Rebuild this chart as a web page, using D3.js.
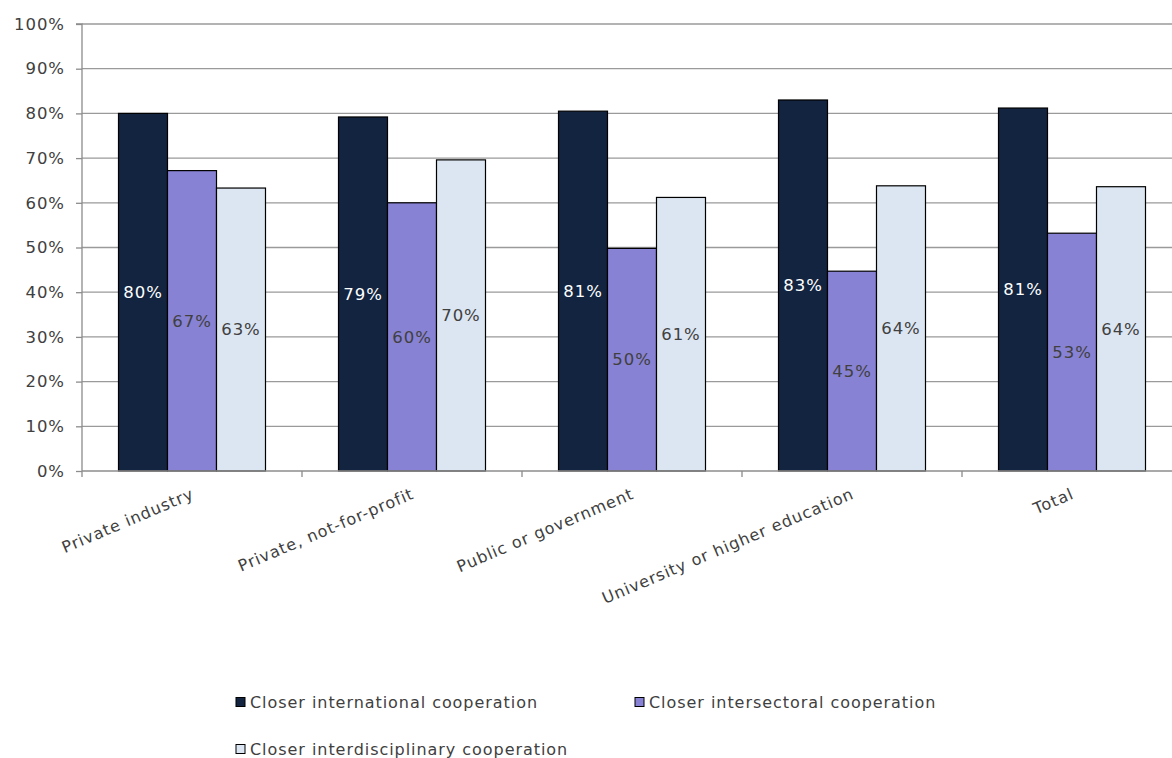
<!DOCTYPE html>
<html><head><meta charset="utf-8">
<script src="https://cdn.jsdelivr.net/npm/d3@7"></script>
<style>body{margin:0;background:#fff}svg{display:block;font-family:"DejaVu Sans",Verdana,sans-serif}</style>
</head><body><svg id="c" width="1172" height="758"></svg>
<script>
const categories = ["Private industry","Private, not-for-profit","Public or government","University or higher education","Total"];
const seriesNames = ["Closer international cooperation","Closer intersectoral cooperation","Closer interdisciplinary cooperation"];
const international = [80.0, 79.2, 80.5, 83.0, 81.2];
const intersectoral = [67.2, 60.0, 49.8, 44.7, 53.2];
const interdisciplinary = [63.3, 69.6, 61.2, 63.8, 63.6];
const yTicks = [0,10,20,30,40,50,60,70,80,90,100];
const colors = ["#12243f","#8882d4","#dce6f2"];
const labelColors = ["#ffffff","#404040","#404040"];

const series = [international, intersectoral, interdisciplinary];
const svg = d3.select("#c");
const L = 82, R = 1182, T = 24, B = 471;
const LS = "0.95px";
const NUMFS = 16.5;
const x = d3.scaleBand().domain(categories).range([L, R]).paddingInner(0).paddingOuter(0);
const xi = d3.scaleBand().domain(d3.range(3)).range([0, x.bandwidth()]).paddingInner(0).paddingOuter(0.745);
const y = d3.scaleLinear().domain([0,100]).range([B, T]);

// gridlines
svg.append("g").selectAll("line").data(yTicks.filter(d=>d>0)).join("line")
  .attr("x1", L).attr("x2", R).attr("y1", d=>y(d)).attr("y2", d=>y(d))
  .attr("stroke", "#9a9a9a").attr("stroke-width", 1.3);

// y axis
const ya = svg.append("g").attr("transform", `translate(${L},0)`)
  .call(d3.axisLeft(y).tickValues(yTicks).tickFormat(d=>d+"%").tickSize(6).tickPadding(11));
ya.select(".domain").attr("stroke", "#8c8c8c").attr("stroke-width",1.3).attr("d", `M-6,${T}H0V${B}`);
ya.selectAll(".tick line").attr("stroke", "#8c8c8c").attr("stroke-width",1.3);
ya.selectAll("text").attr("font-size", NUMFS).attr("fill", "#404040")
  .attr("font-family","DejaVu Sans, Verdana, sans-serif").style("letter-spacing", LS);

// bars
const groups = svg.append("g").selectAll("g").data(categories).join("g")
  .attr("transform", d=>`translate(${x(d)},0)`);
series.forEach((vals, si) => {
  groups.append("rect")
    .attr("x", xi(si)).attr("width", xi.bandwidth())
    .attr("y", (d,i)=>y(vals[i])).attr("height", (d,i)=>B - y(vals[i]))
    .attr("fill", colors[si]).attr("stroke", "#000").attr("stroke-width", 1.2);
  groups.append("text")
    .attr("x", xi(si) + xi.bandwidth()/2)
    .attr("y", (d,i)=>(y(vals[i]) + B)/2)
    .attr("dy", "0.35em").attr("text-anchor", "middle")
    .attr("font-size", NUMFS).attr("fill", labelColors[si]).style("letter-spacing", LS)
    .text((d,i)=>Math.round(vals[i]) + "%");
});

// x axis
const xa = svg.append("g").attr("transform", `translate(0,${B})`);
xa.append("line").attr("x1", L).attr("x2", R).attr("y1", 0).attr("y2", 0).attr("stroke", "#8c8c8c").attr("stroke-width",1.3);
xa.selectAll("line.tk").data(d3.range(categories.length+1)).join("line").attr("class","tk")
  .attr("x1", i=>L + i*x.step()).attr("x2", i=>L + i*x.step()).attr("y1", 0).attr("y2", 6)
  .attr("stroke", "#8c8c8c").attr("stroke-width",1.3);
xa.selectAll("text").data(categories).join("text")
  .attr("transform", d=>`translate(${x(d)+x.bandwidth()/2+3},${27}) rotate(-23)`)
  .attr("text-anchor", "end").attr("font-size", 16).attr("fill", "#404040").style("letter-spacing", LS)
  .text(d=>d);

// legend
const leg = [[236, 702],[635, 702],[236, 749]];
seriesNames.forEach((n, i) => {
  const g = svg.append("g").attr("transform", `translate(${leg[i][0]},${leg[i][1]})`);
  g.append("rect").attr("x", 0).attr("y", -4.5).attr("width", 9).attr("height", 9)
    .attr("fill", colors[i]).attr("stroke", "#000").attr("stroke-width", 1);
  g.append("text").attr("x", 14).attr("y", 0).attr("dy", "0.35em")
    .attr("font-size", 16).attr("fill", "#404040").style("letter-spacing", LS).text(n);
});
</script></body></html>
